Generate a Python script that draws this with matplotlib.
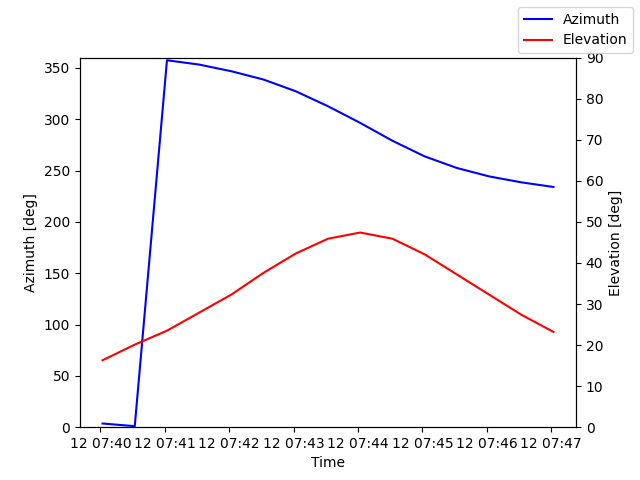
import pandas as pd
import matplotlib
matplotlib.use("Agg")
import matplotlib.pyplot as plt
import matplotlib.dates as mdates

# Pass samples every 30 s
times = pd.date_range("2024-01-12 07:40:02", periods=15, freq="30s")
azimuth = [3.6, 1.0, 357.4, 353.2, 346.7, 338.6, 327.2, 312.6,
           296.4, 279.0, 263.8, 252.5, 244.3, 238.5, 234.0]
elevation = [16.3, 20.1, 23.5, 27.9, 32.3, 37.6, 42.3, 45.9,
             47.4, 45.9, 42.1, 37.2, 32.3, 27.4, 23.2]

fig, ax1 = plt.subplots(figsize=(6.4, 4.8), dpi=100)
ax1.plot(times, azimuth, color="blue", label="Azimuth")
ax1.set_ylim(0, 360)
ax1.set_xlabel("Time")
ax1.set_ylabel("Azimuth [deg]")
ax1.xaxis.set_major_locator(mdates.MinuteLocator())
ax1.xaxis.set_major_formatter(mdates.DateFormatter("%d %H:%M"))

ax2 = ax1.twinx()
ax2.plot(times, elevation, color="red", label="Elevation")
ax2.set_ylim(0, 90)
ax2.set_ylabel("Elevation [deg]")

fig.legend(loc="upper right")
fig.savefig("out.png")
plt.close(fig)
